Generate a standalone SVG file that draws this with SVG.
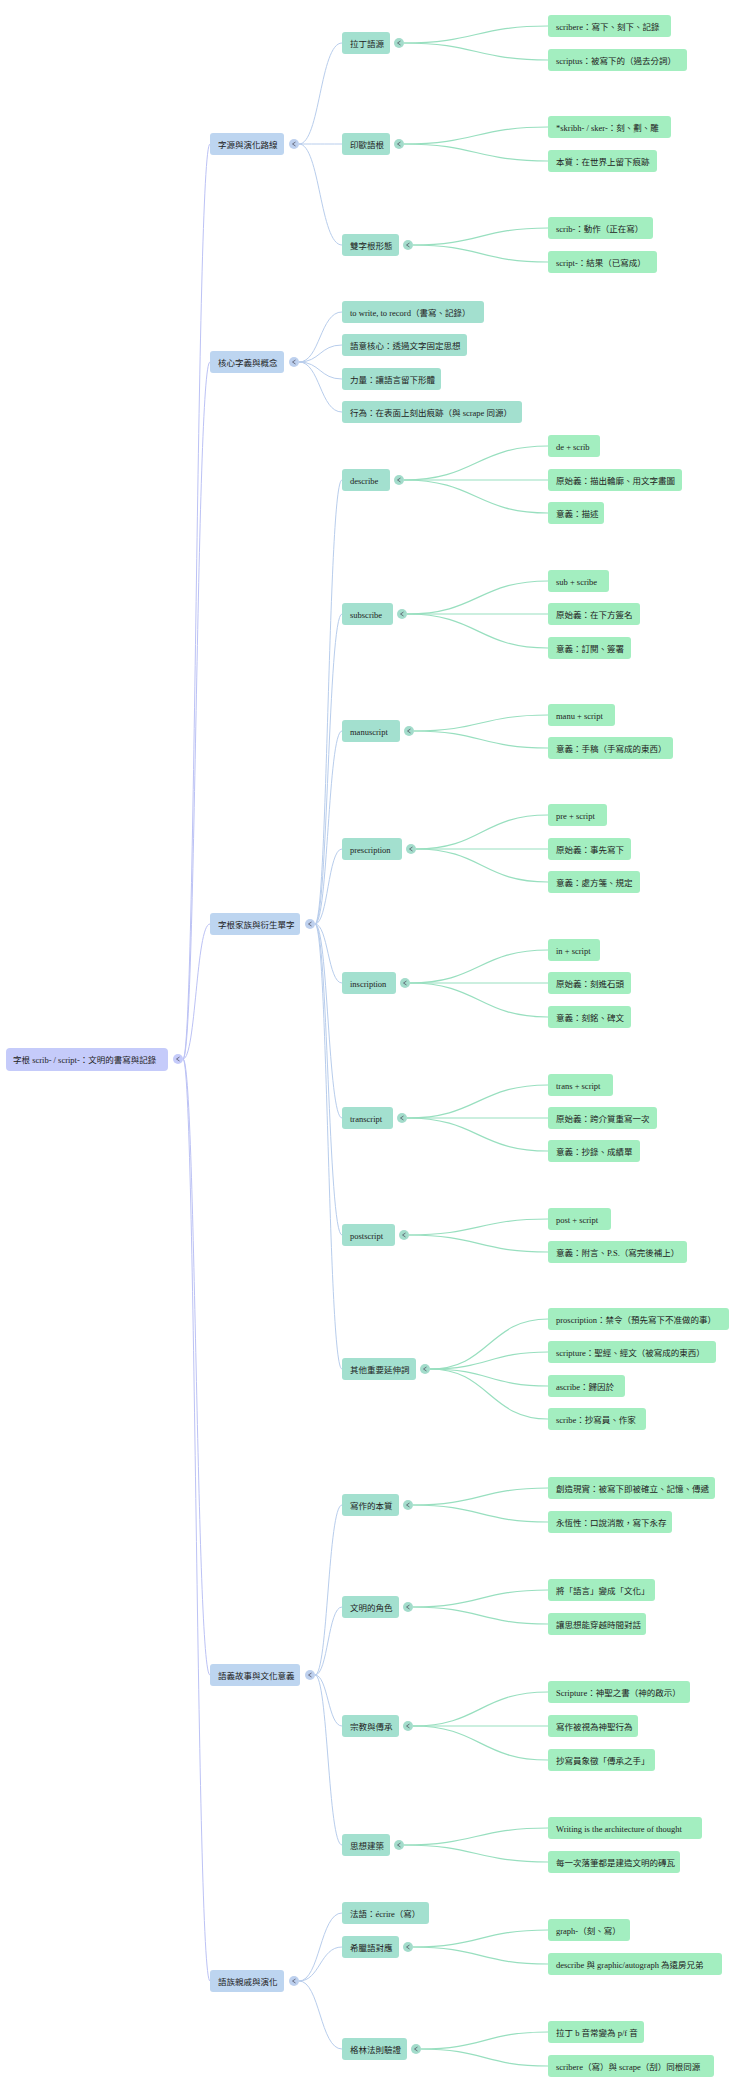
<svg xmlns="http://www.w3.org/2000/svg" width="740" height="2085" viewBox="0 0 740 2085">
<style>
text{font-family:"Liberation Serif","Noto Sans CJK TC",serif;font-size:8.5px;fill:#222;}
.root rect{fill:#c5cbfa;}
.l1 rect{fill:#bdd5f0;}
.l2 rect{fill:#a3e0cf;}
.lf rect{fill:#a3eec0;}
.c1{fill:#bdd0ee;}
.c0{fill:#c5cbfa;}
.c2{fill:#a3dccb;}
.chev{fill:none;stroke:#556;stroke-width:0.8;}
.e0{fill:none;stroke:#bcc2f5;stroke-width:1;}
.e1{fill:none;stroke:#b8cdec;stroke-width:1;}
.e2{fill:none;stroke:#98dfbf;stroke-width:1.2;}
</style>
<defs>
<g id="chv"><path class="chev" d="M1.5,-2 L-1.5,0 L1.5,2"/></g>
</defs>
<g id="connectors">
<path class="e0" d="M183,1059 C196,1059 196,144 210,144"/>
<path class="e0" d="M183,1059 C196,1059 196,362 210,362"/>
<path class="e0" d="M183,1059 C196,1059 196,924 210,924"/>
<path class="e0" d="M183,1059 C196,1059 196,1675 210,1675"/>
<path class="e0" d="M183,1059 C196,1059 196,1981 210,1981"/>
<path class="e1" d="M299,144 C320,144 320,43 342,43"/>
<path class="e1" d="M299,144 C320,144 320,144 342,144"/>
<path class="e1" d="M299,144 C320,144 320,245 342,245"/>
<path class="e1" d="M299,362 C320,362 320,312 342,312"/>
<path class="e1" d="M299,362 C320,362 320,345 342,345"/>
<path class="e1" d="M299,362 C320,362 320,379 342,379"/>
<path class="e1" d="M299,362 C320,362 320,412 342,412"/>
<path class="e1" d="M315,924 C328,924 328,480 342,480"/>
<path class="e1" d="M315,924 C328,924 328,614 342,614"/>
<path class="e1" d="M315,924 C328,924 328,731 342,731"/>
<path class="e1" d="M315,924 C328,924 328,849 342,849"/>
<path class="e1" d="M315,924 C328,924 328,983 342,983"/>
<path class="e1" d="M315,924 C328,924 328,1118 342,1118"/>
<path class="e1" d="M315,924 C328,924 328,1235 342,1235"/>
<path class="e1" d="M315,924 C328,924 328,1369 342,1369"/>
<path class="e1" d="M315,1675 C328,1675 328,1505 342,1505"/>
<path class="e1" d="M315,1675 C328,1675 328,1607 342,1607"/>
<path class="e1" d="M315,1675 C328,1675 328,1726 342,1726"/>
<path class="e1" d="M315,1675 C328,1675 328,1845 342,1845"/>
<path class="e1" d="M299,1981 C320,1981 320,1913 342,1913"/>
<path class="e1" d="M299,1981 C320,1981 320,1947 342,1947"/>
<path class="e1" d="M299,1981 C320,1981 320,2049 342,2049"/>
<path class="e2" d="M404,43 C476,43 476,26 548,26"/>
<path class="e2" d="M404,43 C476,43 476,60 548,60"/>
<path class="e2" d="M404,144 C476,144 476,127 548,127"/>
<path class="e2" d="M404,144 C476,144 476,161 548,161"/>
<path class="e2" d="M413,245 C480,245 480,228 548,228"/>
<path class="e2" d="M413,245 C480,245 480,262 548,262"/>
<path class="e2" d="M404,480 C476,480 476,446 548,446"/>
<path class="e2" d="M404,480 C476,480 476,480 548,480"/>
<path class="e2" d="M404,480 C476,480 476,513 548,513"/>
<path class="e2" d="M407,614 C478,614 478,581 548,581"/>
<path class="e2" d="M407,614 C478,614 478,614 548,614"/>
<path class="e2" d="M407,614 C478,614 478,648 548,648"/>
<path class="e2" d="M414,731 C481,731 481,715 548,715"/>
<path class="e2" d="M414,731 C481,731 481,748 548,748"/>
<path class="e2" d="M416,849 C482,849 482,815 548,815"/>
<path class="e2" d="M416,849 C482,849 482,849 548,849"/>
<path class="e2" d="M416,849 C482,849 482,882 548,882"/>
<path class="e2" d="M410,983 C479,983 479,950 548,950"/>
<path class="e2" d="M410,983 C479,983 479,983 548,983"/>
<path class="e2" d="M410,983 C479,983 479,1017 548,1017"/>
<path class="e2" d="M407,1118 C478,1118 478,1085 548,1085"/>
<path class="e2" d="M407,1118 C478,1118 478,1118 548,1118"/>
<path class="e2" d="M407,1118 C478,1118 478,1151 548,1151"/>
<path class="e2" d="M409,1235 C478,1235 478,1219 548,1219"/>
<path class="e2" d="M409,1235 C478,1235 478,1252 548,1252"/>
<path class="e2" d="M430,1369 C489,1369 489,1319 548,1319"/>
<path class="e2" d="M430,1369 C489,1369 489,1352 548,1352"/>
<path class="e2" d="M430,1369 C489,1369 489,1386 548,1386"/>
<path class="e2" d="M430,1369 C489,1369 489,1419 548,1419"/>
<path class="e2" d="M413,1505 C480,1505 480,1488 548,1488"/>
<path class="e2" d="M413,1505 C480,1505 480,1522 548,1522"/>
<path class="e2" d="M413,1607 C480,1607 480,1590 548,1590"/>
<path class="e2" d="M413,1607 C480,1607 480,1624 548,1624"/>
<path class="e2" d="M413,1726 C480,1726 480,1692 548,1692"/>
<path class="e2" d="M413,1726 C480,1726 480,1726 548,1726"/>
<path class="e2" d="M413,1726 C480,1726 480,1760 548,1760"/>
<path class="e2" d="M404,1845 C476,1845 476,1828 548,1828"/>
<path class="e2" d="M404,1845 C476,1845 476,1862 548,1862"/>
<path class="e2" d="M413,1947 C480,1947 480,1930 548,1930"/>
<path class="e2" d="M413,1947 C480,1947 480,1964 548,1964"/>
<path class="e2" d="M421,2049 C484,2049 484,2032 548,2032"/>
<path class="e2" d="M421,2049 C484,2049 484,2066 548,2066"/>
</g>

<g id="root" class="root"><rect x="6" y="1048" width="162" height="23" rx="4"/><text x="13" y="1062.5">字根 scrib- / script-：文明的書寫與記錄</text><circle class="c0" cx="178" cy="1059" r="5"/><use href="#chv" x="178" y="1059"/></g>

<g id="n-origin" class="l1"><rect x="210" y="133" width="74" height="22" rx="3"/><text x="218" y="147.5">字源與演化路線</text><circle class="c1" cx="294" cy="144" r="5"/><use href="#chv" x="294" y="144"/></g>
<g id="n-core" class="l1"><rect x="210" y="351" width="74" height="22" rx="3"/><text x="218" y="365.5">核心字義與概念</text><circle class="c1" cx="294" cy="362" r="5"/><use href="#chv" x="294" y="362"/></g>
<g id="n-family" class="l1"><rect x="210" y="913" width="90" height="22" rx="3"/><text x="218" y="927.5">字根家族與衍生單字</text><circle class="c1" cx="310" cy="924" r="5"/><use href="#chv" x="310" y="924"/></g>
<g id="n-story" class="l1"><rect x="210" y="1664" width="90" height="22" rx="3"/><text x="218" y="1678.5">語義故事與文化意義</text><circle class="c1" cx="310" cy="1675" r="5"/><use href="#chv" x="310" y="1675"/></g>
<g id="n-kin" class="l1"><rect x="210" y="1970" width="74" height="22" rx="3"/><text x="218" y="1984.5">語族親戚與演化</text><circle class="c1" cx="294" cy="1981" r="5"/><use href="#chv" x="294" y="1981"/></g>

<g id="n-latin" class="l2"><rect x="342" y="32" width="48" height="22" rx="3"/><text x="350" y="46.5">拉丁語源</text><circle class="c2" cx="399" cy="43" r="5"/><use href="#chv" x="399" y="43"/></g>
<g id="n-pie" class="l2"><rect x="342" y="133" width="48" height="22" rx="3"/><text x="350" y="147.5">印歐語根</text><circle class="c2" cx="399" cy="144" r="5"/><use href="#chv" x="399" y="144"/></g>
<g id="n-two" class="l2"><rect x="342" y="234" width="57" height="22" rx="3"/><text x="350" y="248.5">雙字根形態</text><circle class="c2" cx="408" cy="245" r="5"/><use href="#chv" x="408" y="245"/></g>
<g id="n-towrite" class="l2"><rect x="342" y="301" width="142" height="22" rx="3"/><text x="350" y="315.5">to write, to record（書寫、記錄）</text></g>
<g id="n-sem" class="l2"><rect x="342" y="334" width="125" height="22" rx="3"/><text x="350" y="348.5">語意核心：透過文字固定思想</text></g>
<g id="n-power" class="l2"><rect x="342" y="368" width="99" height="22" rx="3"/><text x="350" y="382.5">力量：讓語言留下形體</text></g>
<g id="n-act" class="l2"><rect x="342" y="401" width="180" height="22" rx="3"/><text x="350" y="415.5">行為：在表面上刻出痕跡（與 scrape 同源）</text></g>
<g id="n-describe" class="l2"><rect x="342" y="469" width="48" height="22" rx="3"/><text x="350" y="483.5">describe</text><circle class="c2" cx="399" cy="480" r="5"/><use href="#chv" x="399" y="480"/></g>
<g id="n-subscribe" class="l2"><rect x="342" y="603" width="51" height="22" rx="3"/><text x="350" y="617.5">subscribe</text><circle class="c2" cx="402" cy="614" r="5"/><use href="#chv" x="402" y="614"/></g>
<g id="n-manuscript" class="l2"><rect x="342" y="720" width="58" height="22" rx="3"/><text x="350" y="734.5">manuscript</text><circle class="c2" cx="409" cy="731" r="5"/><use href="#chv" x="409" y="731"/></g>
<g id="n-prescription" class="l2"><rect x="342" y="838" width="60" height="22" rx="3"/><text x="350" y="852.5">prescription</text><circle class="c2" cx="411" cy="849" r="5"/><use href="#chv" x="411" y="849"/></g>
<g id="n-inscription" class="l2"><rect x="342" y="972" width="54" height="22" rx="3"/><text x="350" y="986.5">inscription</text><circle class="c2" cx="405" cy="983" r="5"/><use href="#chv" x="405" y="983"/></g>
<g id="n-transcript" class="l2"><rect x="342" y="1107" width="51" height="22" rx="3"/><text x="350" y="1121.5">transcript</text><circle class="c2" cx="402" cy="1118" r="5"/><use href="#chv" x="402" y="1118"/></g>
<g id="n-postscript" class="l2"><rect x="342" y="1224" width="53" height="22" rx="3"/><text x="350" y="1238.5">postscript</text><circle class="c2" cx="404" cy="1235" r="5"/><use href="#chv" x="404" y="1235"/></g>
<g id="n-other" class="l2"><rect x="342" y="1358" width="74" height="22" rx="3"/><text x="350" y="1372.5">其他重要延伸詞</text><circle class="c2" cx="425" cy="1369" r="5"/><use href="#chv" x="425" y="1369"/></g>
<g id="n-essence" class="l2"><rect x="342" y="1494" width="57" height="22" rx="3"/><text x="350" y="1508.5">寫作的本質</text><circle class="c2" cx="408" cy="1505" r="5"/><use href="#chv" x="408" y="1505"/></g>
<g id="n-civ" class="l2"><rect x="342" y="1596" width="57" height="22" rx="3"/><text x="350" y="1610.5">文明的角色</text><circle class="c2" cx="408" cy="1607" r="5"/><use href="#chv" x="408" y="1607"/></g>
<g id="n-rel" class="l2"><rect x="342" y="1715" width="57" height="22" rx="3"/><text x="350" y="1729.5">宗教與傳承</text><circle class="c2" cx="408" cy="1726" r="5"/><use href="#chv" x="408" y="1726"/></g>
<g id="n-arch" class="l2"><rect x="342" y="1834" width="48" height="22" rx="3"/><text x="350" y="1848.5">思想建築</text><circle class="c2" cx="399" cy="1845" r="5"/><use href="#chv" x="399" y="1845"/></g>
<g id="n-fr" class="l2"><rect x="342" y="1902" width="87" height="22" rx="3"/><text x="350" y="1916.5">法語：écrire（寫）</text></g>
<g id="n-gr" class="l2"><rect x="342" y="1936" width="57" height="22" rx="3"/><text x="350" y="1950.5">希臘語對應</text><circle class="c2" cx="408" cy="1947" r="5"/><use href="#chv" x="408" y="1947"/></g>
<g id="n-grimm" class="l2"><rect x="342" y="2038" width="65" height="22" rx="3"/><text x="350" y="2052.5">格林法則驗證</text><circle class="c2" cx="416" cy="2049" r="5"/><use href="#chv" x="416" y="2049"/></g>

<g id="leaves" class="lf">
<g id="l1"><rect x="548" y="15" width="123" height="22" rx="3"/><text x="556" y="29.5">scribere：寫下、刻下、記錄</text></g>
<g id="l2"><rect x="548" y="49" width="139" height="22" rx="3"/><text x="556" y="63.5">scriptus：被寫下的（過去分詞）</text></g>
<g id="l3"><rect x="548" y="116" width="123" height="22" rx="3"/><text x="556" y="130.5">*skribh- / sker-：刻、劃、雕</text></g>
<g id="l4"><rect x="548" y="150" width="109" height="22" rx="3"/><text x="556" y="164.5">本質：在世界上留下痕跡</text></g>
<g id="l5"><rect x="548" y="217" width="105" height="22" rx="3"/><text x="556" y="231.5">scrib-：動作（正在寫）</text></g>
<g id="l6"><rect x="548" y="251" width="109" height="22" rx="3"/><text x="556" y="265.5">script-：結果（已寫成）</text></g>
<g id="l7"><rect x="548" y="435" width="52" height="22" rx="3"/><text x="556" y="449.5">de + scrib</text></g>
<g id="l8"><rect x="548" y="469" width="134" height="22" rx="3"/><text x="556" y="483.5">原始義：描出輪廓、用文字畫圖</text></g>
<g id="l9"><rect x="548" y="502" width="56" height="22" rx="3"/><text x="556" y="516.5">意義：描述</text></g>
<g id="l10"><rect x="548" y="570" width="61" height="22" rx="3"/><text x="556" y="584.5">sub + scribe</text></g>
<g id="l11"><rect x="548" y="603" width="92" height="22" rx="3"/><text x="556" y="617.5">原始義：在下方簽名</text></g>
<g id="l12"><rect x="548" y="637" width="83" height="22" rx="3"/><text x="556" y="651.5">意義：訂閱、簽署</text></g>
<g id="l13"><rect x="548" y="704" width="67" height="22" rx="3"/><text x="556" y="718.5">manu + script</text></g>
<g id="l14"><rect x="548" y="737" width="125" height="22" rx="3"/><text x="556" y="751.5">意義：手稿（手寫成的東西）</text></g>
<g id="l15"><rect x="548" y="804" width="59" height="22" rx="3"/><text x="556" y="818.5">pre + script</text></g>
<g id="l16"><rect x="548" y="838" width="83" height="22" rx="3"/><text x="556" y="852.5">原始義：事先寫下</text></g>
<g id="l17"><rect x="548" y="871" width="92" height="22" rx="3"/><text x="556" y="885.5">意義：處方箋、規定</text></g>
<g id="l18"><rect x="548" y="939" width="52" height="22" rx="3"/><text x="556" y="953.5">in + script</text></g>
<g id="l19"><rect x="548" y="972" width="83" height="22" rx="3"/><text x="556" y="986.5">原始義：刻進石頭</text></g>
<g id="l20"><rect x="548" y="1006" width="83" height="22" rx="3"/><text x="556" y="1020.5">意義：刻銘、碑文</text></g>
<g id="l21"><rect x="548" y="1074" width="65" height="22" rx="3"/><text x="556" y="1088.5">trans + script</text></g>
<g id="l22"><rect x="548" y="1107" width="109" height="22" rx="3"/><text x="556" y="1121.5">原始義：跨介質重寫一次</text></g>
<g id="l23"><rect x="548" y="1140" width="92" height="22" rx="3"/><text x="556" y="1154.5">意義：抄錄、成績單</text></g>
<g id="l24"><rect x="548" y="1208" width="63" height="22" rx="3"/><text x="556" y="1222.5">post + script</text></g>
<g id="l25"><rect x="548" y="1241" width="139" height="22" rx="3"/><text x="556" y="1255.5">意義：附言、P.S.（寫完後補上）</text></g>
<g id="l26"><rect x="548" y="1308" width="181" height="22" rx="3"/><text x="556" y="1322.5">proscription：禁令（預先寫下不准做的事）</text></g>
<g id="l27"><rect x="548" y="1341" width="168" height="22" rx="3"/><text x="556" y="1355.5">scripture：聖經、經文（被寫成的東西）</text></g>
<g id="l28"><rect x="548" y="1375" width="77" height="22" rx="3"/><text x="556" y="1389.5">ascribe：歸因於</text></g>
<g id="l29"><rect x="548" y="1408" width="98" height="22" rx="3"/><text x="556" y="1422.5">scribe：抄寫員、作家</text></g>
<g id="l30"><rect x="548" y="1477" width="167" height="22" rx="3"/><text x="556" y="1491.5">創造現實：被寫下即被確立、記憶、傳遞</text></g>
<g id="l31"><rect x="548" y="1511" width="124" height="22" rx="3"/><text x="556" y="1525.5">永恆性：口說消散，寫下永存</text></g>
<g id="l32"><rect x="548" y="1579" width="107" height="22" rx="3"/><text x="556" y="1593.5">將「語言」變成「文化」</text></g>
<g id="l33"><rect x="548" y="1613" width="98" height="22" rx="3"/><text x="556" y="1627.5">讓思想能穿越時間對話</text></g>
<g id="l34"><rect x="548" y="1681" width="142" height="22" rx="3"/><text x="556" y="1695.5">Scripture：神聖之書（神的啟示）</text></g>
<g id="l35"><rect x="548" y="1715" width="90" height="22" rx="3"/><text x="556" y="1729.5">寫作被視為神聖行為</text></g>
<g id="l36"><rect x="548" y="1749" width="107" height="22" rx="3"/><text x="556" y="1763.5">抄寫員象徵「傳承之手」</text></g>
<g id="l37"><rect x="548" y="1817" width="154" height="22" rx="3"/><text x="556" y="1831.5">Writing is the architecture of thought</text></g>
<g id="l38"><rect x="548" y="1851" width="132" height="22" rx="3"/><text x="556" y="1865.5">每一次落筆都是建造文明的磚瓦</text></g>
<g id="l39"><rect x="548" y="1919" width="82" height="22" rx="3"/><text x="556" y="1933.5">graph-（刻、寫）</text></g>
<g id="l40"><rect x="548" y="1953" width="174" height="22" rx="3"/><text x="556" y="1967.5">describe 與 graphic/autograph 為遠房兄弟</text></g>
<g id="l41"><rect x="548" y="2021" width="96" height="22" rx="3"/><text x="556" y="2035.5">拉丁 b 音常變為 p/f 音</text></g>
<g id="l42"><rect x="548" y="2055" width="166" height="22" rx="3"/><text x="556" y="2069.5">scribere（寫）與 scrape（刮）同根同源</text></g>
</g>
</svg>
